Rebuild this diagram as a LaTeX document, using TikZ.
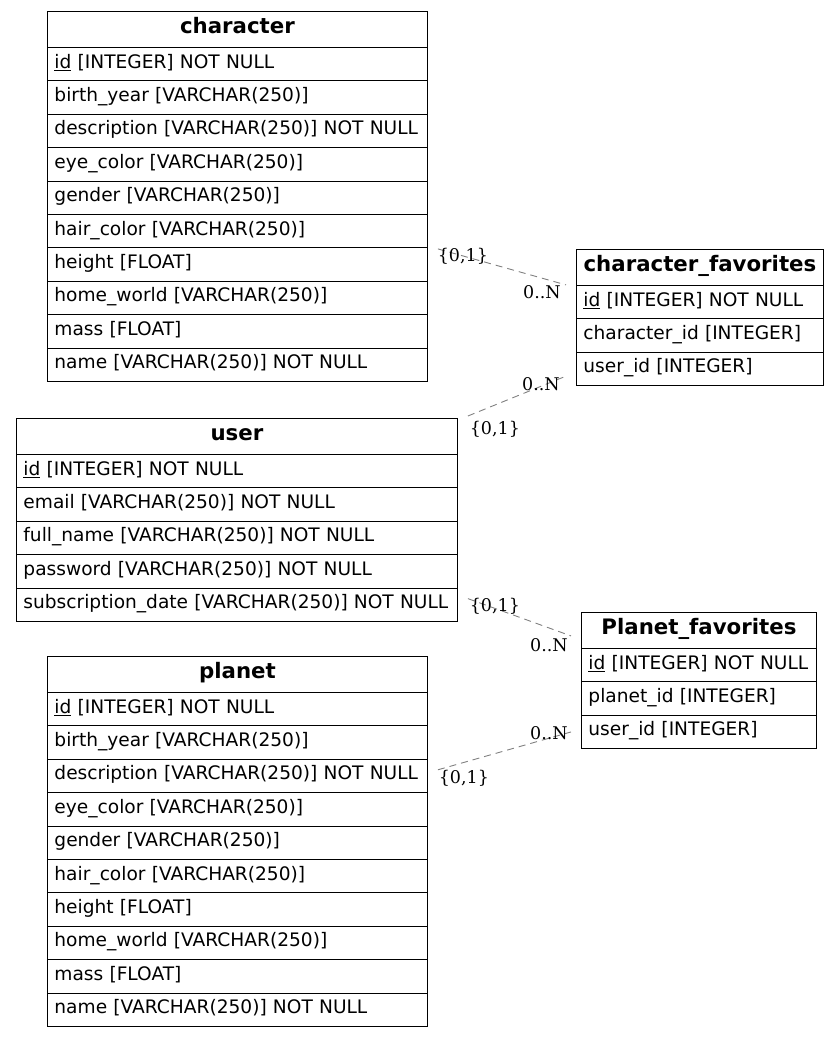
\documentclass[tikz,border=0pt]{standalone}
\usepackage{fontspec}
\usetikzlibrary{calc}
\newfontfamily\dvsans{DejaVu Sans}
\newfontfamily\dvserif{DejaVu Serif}
\newcommand\rowfont{\dvsans\fontsize{18.6}{22}\selectfont}
\newcommand\hdrfont{\dvsans\bfseries\fontsize{21.3}{25}\selectfont}
\newcommand\cardfont{\dvserif\fontsize{17.5}{20}\selectfont}
\newcommand\pk[1]{\underline{#1}}
\tikzset{
  tbl/.style={draw, line width=0.9pt, anchor=north west, inner xsep=7pt, inner ysep=0pt,
    font=\rowfont, align=left, minimum height=33.4pt, text height=14pt, text depth=6pt},
  hdr/.style={tbl, font=\hdrfont, align=center, minimum height=36pt, text height=16pt, text depth=8pt},
  rel/.style={draw=gray, line width=0.9pt, dash pattern=on 7pt off 5pt},
  card/.style={font=\cardfont, inner sep=0pt}
}
\newcommand\ertable[6]{%
  \pgfmathsetmacro\ertw{#4-14}%
  \node[hdr, minimum width=#4pt, text width=\ertw pt] (#1-h) at (#2,#3) {#5};
  \foreach \t [count=\i] in {#6} {
    \pgfmathsetmacro\ery{#3+36+(\i-1)*33.4}
    \node[tbl, minimum width=#4pt, text width=\ertw pt] (#1-\i) at (#2,\ery) {\t};
  }
}
\begin{document}
\begin{tikzpicture}[x=1pt,y=-1pt]
\useasboundingbox (0,0) rectangle (839,1037);

\ertable{character}{47}{11}{380}{character}{%
  {\pk{id} [INTEGER] NOT NULL},
  {birth\_year [VARCHAR(250)]},
  {description [VARCHAR(250)] NOT NULL},
  {eye\_color [VARCHAR(250)]},
  {gender [VARCHAR(250)]},
  {hair\_color [VARCHAR(250)]},
  {height [FLOAT]},
  {home\_world [VARCHAR(250)]},
  {mass [FLOAT]},
  {name [VARCHAR(250)] NOT NULL}}

\ertable{charfav}{576}{249}{247}{character\_favorites}{%
  {\pk{id} [INTEGER] NOT NULL},
  {character\_id [INTEGER]},
  {user\_id [INTEGER]}}

\ertable{user}{16}{418}{441}{user}{%
  {\pk{id} [INTEGER] NOT NULL},
  {email [VARCHAR(250)] NOT NULL},
  {full\_name [VARCHAR(250)] NOT NULL},
  {password [VARCHAR(250)] NOT NULL},
  {subscription\_date [VARCHAR(250)] NOT NULL}}

\ertable{pfav}{581}{612}{235}{Planet\_favorites}{%
  {\pk{id} [INTEGER] NOT NULL},
  {planet\_id [INTEGER]},
  {user\_id [INTEGER]}}

\ertable{planet}{47}{656}{380}{planet}{%
  {\pk{id} [INTEGER] NOT NULL},
  {birth\_year [VARCHAR(250)]},
  {description [VARCHAR(250)] NOT NULL},
  {eye\_color [VARCHAR(250)]},
  {gender [VARCHAR(250)]},
  {hair\_color [VARCHAR(250)]},
  {height [FLOAT]},
  {home\_world [VARCHAR(250)]},
  {mass [FLOAT]},
  {name [VARCHAR(250)] NOT NULL}}

% connector end points
\coordinate (s1) at ($(character-7.north east)+(10,1.5)$);
\coordinate (e1) at ($(charfav-h.south west)+(-10,-1)$);
\coordinate (s2) at ($(user-h.north east)+(10,-2)$);
\coordinate (e2) at ($(charfav-3.south west)+(-10,-10)$);
\coordinate (s3) at ($(user-5.north east)+(10,11)$);
\coordinate (e3) at ($(pfav-h.south west)+(-10,-13)$);
\coordinate (s4) at ($(planet-3.north east)+(10,11)$);
\coordinate (e4) at ($(pfav-3.west)+(-10,0)$);

\draw[rel] (s1) -- (e1);
\draw[rel] (s2) -- (e2);
\draw[rel] (s3) -- (e3);
\draw[rel] (s4) -- (e4);

\node[card] (c1a) at ($(s1)+(25,7)$) {\{0,1\}};
\node[card] (c1b) at ($(e1)+(-24,7)$) {0..N};
\node[card] (c2a) at ($(s2)+(27,13)$) {\{0,1\}};
\node[card] (c2b) at ($(e2)+(-25,8)$) {0..N};
\node[card] (c3a) at ($(s3)+(27,8)$) {\{0,1\}};
\node[card] (c3b) at ($(e3)+(-22,9)$) {0..N};
\node[card] (c4a) at ($(s4)+(26,8)$) {\{0,1\}};
\node[card] (c4b) at ($(e4)+(-22,1)$) {0..N};
\end{tikzpicture}
\end{document}
